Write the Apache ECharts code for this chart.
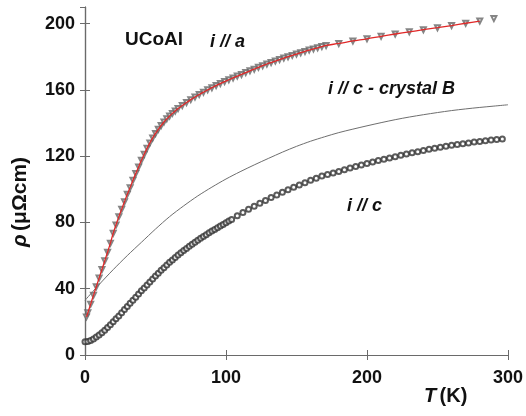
<!DOCTYPE html>
<html>
<head>
<meta charset="utf-8">
<script src="https://cdn.jsdelivr.net/npm/echarts@6/dist/echarts.min.js"></script>
<style>html,body{margin:0;padding:0;background:#fff;}#c{width:526px;height:416px;}</style>
</head>
<body>
<div id="c"></div>
<script>
// i // a (triangles, with red fit line)
var aT =   [1,2,4,6,8,10,12,14,16,18,20,22,24,26,28,30,32,34,36,38,40,42,44,46,48,50,52,54,56,58,60,62,64,66,
            69,72,75,78,81,84,87,90,93,96,99,102,105,108,111,114,117,120,123,126,129,132,135,138,141,144,147,150,153,156,159,162,165,168,171,
            180,190,200,210,220,230,240,250,260,270,280,290];
var aRho = [23,25.5,30.7,36,41.2,46.4,51.6,56.8,62,67.5,73.5,78.5,83.5,88,92.5,97,101,105.5,109.5,113.5,117.5,121.2,124.7,128,131,133.7,136.2,138.5,140.6,142.5,144.2,145.8,147.3,148.7,
            150.6,152.4,154.1,155.7,157.2,158.6,160,161.3,162.6,163.8,165,166.1,167.2,168.3,169.3,170.4,171.5,172.5,173.6,174.6,175.6,176.5,177.4,178.3,179.2,180,180.8,181.6,182.4,183.2,184,184.7,185.4,186.1,186.8,
            188,189.5,190.8,192.3,193.7,195,196.3,197.5,198.8,200.2,201.5,203];
var fitMaxT = 280;

// i // c - crystal B (thin line)
var cbT =   [0,10,20,30,40,50,60,70,80,90,100,110,120,130,140,150,160,170,180,190,200,210,220,230,240,250,260,270,280,290,300];
var cbRho = [33,42.5,51.5,60,68,76,83.5,90,96,101.3,106.2,110.6,114.7,118.6,122.4,125.9,129,131.7,134.2,136.3,138.3,140.2,142,143.6,145,146.3,147.5,148.5,149.4,150.2,151];

// i // c (circles)
var cT =   [0,2,4,6,8,10,12,14,16,18,20,22,24,26,28,30,32,34,36,38,40,42,44,46,48,50,52,54,56,58,60,62,64,66,68,70,72,74,76,78,80,82,84,86,88,90,92,94,96,98,100,102,104,
            108,112,116,120,124,128,132,136,140,144,148,152,156,160,164,168,172,176,180,184,188,192,196,200,204,208,212,216,220,224,228,232,236,240,244,248,252,256,260,264,268,272,276,280,284,288,292,296];
var cRho = [8,8.2,8.8,9.7,10.8,12,13.5,15,16.6,18.3,20,21.8,23.6,25.5,27.4,29.3,31.2,33,34.9,36.8,38.7,40.5,42.3,44.1,45.9,47.7,49.4,51.1,52.7,54.3,55.9,57.4,58.9,60.3,61.7,63,64.3,65.6,66.8,68,69.2,70.4,71.5,72.6,73.7,74.8,75.8,76.8,77.8,78.8,79.8,80.8,81.7,
            84,86,88,89.8,91.6,93.3,95,96.6,98.2,99.7,101.2,102.6,104,105.4,106.7,108,108.9,109.9,110.8,111.8,112.8,113.7,114.6,115.5,116.4,117.3,118.1,118.9,119.7,120.5,121.3,122,122.7,123.4,124.1,124.7,125.3,125.9,126.5,127,127.5,128,128.5,128.9,129.3,129.7,130,130.3];

var xMin = 0, xMax = 300, xStep = 100;
var yMin = 0, yMax = 210, yStep = 40;

function zip(xs, ys) { return xs.map(function (x, i) { return [x, ys[i]]; }); }
var aPts = zip(aT, aRho);
var fitPts = aPts.filter(function (p) { return p[0] <= fitMaxT; });

var chart = echarts.init(document.getElementById('c'), null, {renderer: 'canvas'});
var F = '"Liberation Sans", Arial, Helvetica, sans-serif';
var axisCol = '#6a6a6a';

chart.setOption({
  animation: false,
  backgroundColor: '#fff',
  grid: {left: 85, right: 18, top: 7, bottom: 61},
  xAxis: [{
    type: 'value', min: xMin, max: xMax, interval: xStep, position: 'bottom',
    axisLine: {show: true, lineStyle: {color: axisCol, width: 1.2}},
    axisTick: {show: true, inside: true, length: 5, lineStyle: {color: axisCol}},
    splitLine: {show: false},
    axisLabel: {color: '#111', fontFamily: F, fontWeight: 'bold', fontSize: 18, margin: 14}
  }, {
    type: 'value', min: xMin, max: xMax, interval: xStep, position: 'top',
    axisLine: {show: true, lineStyle: {color: axisCol, width: 1.2}},
    axisTick: {show: true, inside: true, length: 5, lineStyle: {color: axisCol}},
    splitLine: {show: false}, axisLabel: {show: false}
  }],
  yAxis: [{
    type: 'value', min: yMin, max: yMax, interval: yStep, position: 'left',
    axisLine: {show: true, lineStyle: {color: axisCol, width: 1.2}},
    axisTick: {show: true, inside: true, length: 5, lineStyle: {color: axisCol}},
    splitLine: {show: false},
    axisLabel: {color: '#111', fontFamily: F, fontWeight: 'bold', fontSize: 18, margin: 10, showMaxLabel: false}
  }, {
    type: 'value', min: yMin, max: yMax, interval: yStep, position: 'right',
    axisLine: {show: true, lineStyle: {color: axisCol, width: 1.2}},
    axisTick: {show: true, inside: true, length: 5, lineStyle: {color: axisCol}},
    splitLine: {show: false}, axisLabel: {show: false}
  }],
  series: [
    {
      name: 'i // c', type: 'scatter', data: zip(cT, cRho),
      symbol: 'emptyCircle', symbolSize: 5,
      itemStyle: {color: '#333', borderColor: '#333', borderWidth: 1}
    },
    {
      name: 'i // c - crystal B', type: 'line', data: zip(cbT, cbRho),
      showSymbol: false, smooth: 0.3,
      lineStyle: {color: '#6e6e6e', width: 1}
    },
    {
      name: 'i // a', type: 'scatter', data: aPts,
      symbol: 'emptyTriangle', symbolRotate: 180, symbolSize: 5,
      itemStyle: {color: '#666', borderColor: '#666', borderWidth: 0.9}
    },
    {
      name: 'fit', type: 'line', data: fitPts,
      showSymbol: false, smooth: 0.3,
      lineStyle: {color: '#e02828', width: 1.3}
    }
  ],
  graphic: [
    {type: 'text', left: 125, top: 30, style: {text: 'UCoAl', font: 'bold 19px ' + F, fill: '#111'}},
    {type: 'text', left: 210, top: 33, style: {text: 'i // a', font: 'italic bold 18px ' + F, fill: '#111'}},
    {type: 'text', left: 328, top: 80, style: {text: 'i // c - crystal B', font: 'italic bold 18px ' + F, fill: '#111'}},
    {type: 'text', left: 347, top: 197, style: {text: 'i // c', font: 'italic bold 18px ' + F, fill: '#111'}},
    {type: 'text', left: 424, top: 386, style: {
      text: '{t|T} {k|(K)}',
      rich: {
        t: {font: 'italic bold 20px ' + F, fill: '#111'},
        k: {font: 'bold 20px ' + F, fill: '#111'}
      }
    }},
    {type: 'text', x: 10, y: 247, rotation: Math.PI / 2, style: {
      text: '{r|ρ} {u|(μΩcm)}',
      rich: {
        r: {font: 'italic bold 21px ' + F, fill: '#111'},
        u: {font: 'bold 21px ' + F, fill: '#111'}
      }
    }}
  ]
});
</script>
</body>
</html>
